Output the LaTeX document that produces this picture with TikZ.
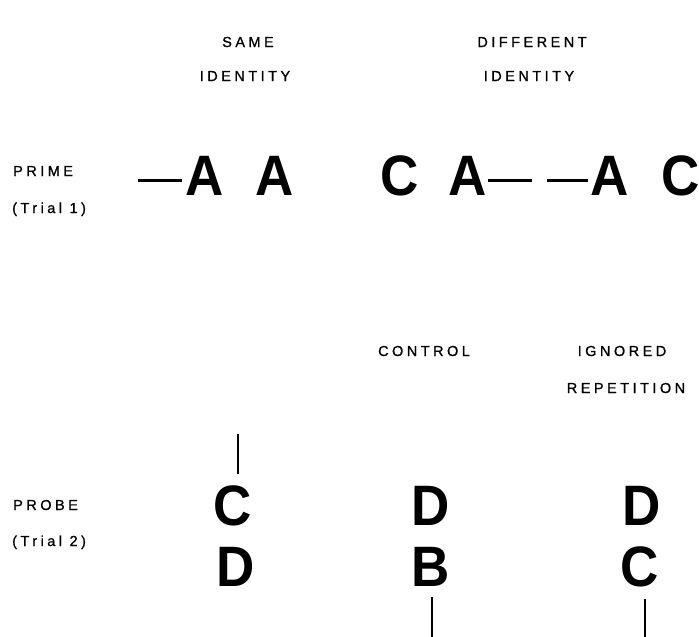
\documentclass[tikz,border=0pt]{standalone}
\usepackage{fontspec}
\setmainfont{Liberation Sans}
\newfontfamily\labfont[LetterSpace=24,FakeBold=1]{Liberation Sans}
\newfontfamily\bigfont{Liberation Sans Bold}
\begin{document}
\begin{tikzpicture}[x=1pt,y=-1pt,
  lab/.style={inner sep=0pt,anchor=base,font=\labfont\fontsize{14.5}{14.5}\selectfont},
  leftlab/.style={inner sep=0pt,anchor=base west,font=\labfont\fontsize{14.5}{14.5}\selectfont},
  big/.style={inner sep=0pt,anchor=base,font=\bigfont\fontsize{57}{57}\selectfont,xscale=0.93},
  bar/.style={line width=3pt}]
\useasboundingbox (0,0) rectangle (699,637);
% headings
\node[lab] (same) at (248,47) {SAME};
\node[lab] (id1) at (245,81) {IDENTITY};
\node[lab] (diff) at (532,47) {DIFFERENT};
\node[lab] (id2) at (529,81) {IDENTITY};
% left labels
\node[leftlab] (prime) at (13,176) {PRIME};
\node[leftlab] (trial1) at (12,213) {(Trial 1)};
\node[leftlab] (probe) at (13,510) {PROBE};
\node[leftlab] (trial2) at (12,546) {(Trial 2)};
% prime row
\node[big] (a1) at (205,195) {A};
\node[big] (a2) at (275,195) {A};
\node[big] (c1) at (400,195) {C};
\node[big] (a3) at (468,195) {A};
\node[big] (a4) at (610,195) {A};
\node[big] (c2) at (681,195) {C};
\coordinate (d1s) at (138,180); \coordinate (d1e) at (182,180);
\coordinate (d2s) at (488,180); \coordinate (d2e) at (532,180);
\coordinate (d3s) at (547,180); \coordinate (d3e) at (588,180);
\draw[bar] (d1s) -- (d1e);
\draw[bar] (d2s) -- (d2e);
\draw[bar] (d3s) -- (d3e);
% condition labels
\node[lab] (control) at (424,356) {CONTROL};
\node[lab] (ignored) at (622,356) {IGNORED};
\node[lab] (repet) at (626,393) {REPETITION};
% probe rows
\node[big] (pc1) at (233,525) {C};
\node[big] (pd1) at (236,586) {D};
\node[big] (pd2) at (431,525) {D};
\node[big] (pb2) at (431,586) {B};
\node[big] (pd3) at (642,525) {D};
\node[big] (pc3) at (640,586) {C};
\coordinate (v1s) at (238,434); \coordinate (v1e) at (238,474);
\coordinate (v2s) at (432,597); \coordinate (v2e) at (432,637);
\coordinate (v3s) at (645,599); \coordinate (v3e) at (645,637);
\draw[line width=2.5pt] (v1s) -- (v1e);
\draw[line width=2.5pt] (v2s) -- (v2e);
\draw[line width=2.5pt] (v3s) -- (v3e);
\end{tikzpicture}
\end{document}
